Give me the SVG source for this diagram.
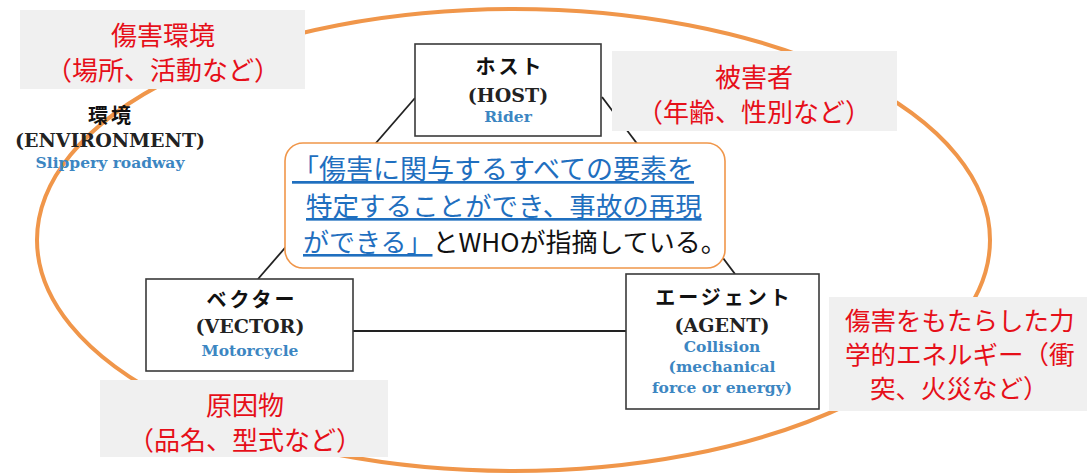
<svg xmlns="http://www.w3.org/2000/svg" width="1087" height="475" viewBox="0 0 1087 475">
<style>
.lbl{fill:#f0f0f0;stroke:none}
.red{fill:#e60f19;font-family:"Noto Sans CJK JP",sans-serif;font-size:26px}
.box{fill:#fff;stroke:#3a3a3a;stroke-width:1.6}
.jt{font-family:"Noto Sans CJK JP",sans-serif;font-weight:bold;font-size:20px;fill:#111;letter-spacing:3px}
.en{font-family:"DejaVu Serif","Liberation Serif",serif;font-weight:bold;font-size:19px;fill:#222}
.bl{font-family:"DejaVu Serif","Liberation Serif",serif;font-weight:bold;font-size:15.5px;fill:#3c86c2}
.co{stroke:#222;stroke-width:1.8;fill:none}
.cb{font-family:"Noto Sans CJK JP",sans-serif;font-size:26.5px}
.u{fill:#1f6fbf;text-decoration:underline}
</style>
<ellipse cx="513.5" cy="240" rx="476.5" ry="231" fill="none" stroke="#f0964a" stroke-width="4"/>
<g id="connectors">
<line class="co" x1="415" y1="98" x2="258" y2="279"/>
<line class="co" x1="602" y1="97" x2="735" y2="274"/>
<line class="co" x1="353" y1="331" x2="626" y2="331"/>
</g>
<g id="environment" text-anchor="middle">
<text class="jt" x="111" y="123">環境</text>
<text class="en" x="110" y="147">(ENVIRONMENT)</text>
<text class="bl" x="110" y="168">Slippery roadway</text>
</g>
<g id="host" text-anchor="middle">
<rect class="box" x="415" y="44" width="186" height="92"/>
<text class="jt" x="510" y="74">ホスト</text>
<text class="en" x="508" y="102">(HOST)</text>
<text class="bl" x="508" y="122">Rider</text>
</g>
<g id="vector" text-anchor="middle">
<rect class="box" x="146" y="279" width="207" height="92"/>
<text class="jt" x="252" y="307">ベクター</text>
<text class="en" x="250" y="333">(VECTOR)</text>
<text class="bl" x="250" y="356">Motorcycle</text>
</g>
<g id="agent" text-anchor="middle">
<rect class="box" x="626" y="274" width="193" height="135"/>
<text class="jt" x="724" y="305">エージェント</text>
<text class="en" x="722" y="332">(AGENT)</text>
<text class="bl" x="722" y="352">Collision</text>
<text class="bl" x="722" y="372">(mechanical</text>
<text class="bl" x="722" y="393">force or energy)</text>
</g>
<g id="callout">
<rect x="285" y="143" width="440" height="125" rx="18" fill="#fff" stroke="#f0964a" stroke-width="1.6"/>
<text class="cb" x="292" y="179" style="font-size:27px"><tspan class="u">「傷害に関与するすべての要素を</tspan></text>
<text class="cb" x="306" y="216"><tspan class="u">特定することができ、事故の再現</tspan></text>
<text class="cb" x="303" y="252" style="font-size:26px"><tspan class="u">ができる」</tspan><tspan fill="#111">とWHOが指摘している。</tspan></text>
</g>
<g id="label-env">
<rect class="lbl" x="20" y="10" width="285" height="79"/>
<text class="red" x="163" y="45" text-anchor="middle">傷害環境</text>
<text class="red" x="163" y="80" text-anchor="middle">（場所、活動など）</text>
</g>
<g id="label-host">
<rect class="lbl" x="612" y="51" width="285" height="80"/>
<text class="red" x="754" y="87" text-anchor="middle">被害者</text>
<text class="red" x="754" y="122" text-anchor="middle">（年齢、性別など）</text>
</g>
<g id="label-vector">
<rect class="lbl" x="100" y="380" width="288" height="77"/>
<text class="red" x="245" y="415" text-anchor="middle">原因物</text>
<text class="red" x="245" y="450" text-anchor="middle">（品名、型式など）</text>
</g>
<g id="label-agent">
<rect class="lbl" x="829" y="297" width="258" height="114"/>
<text class="red" x="845" y="330" style="font-size:25.5px">傷害をもたらした力</text>
<text class="red" x="845" y="364" style="font-size:25.5px">学的エネルギー（衝</text>
<text class="red" x="870" y="398" style="font-size:25.5px">突、火災など）</text>
</g>
</svg>
